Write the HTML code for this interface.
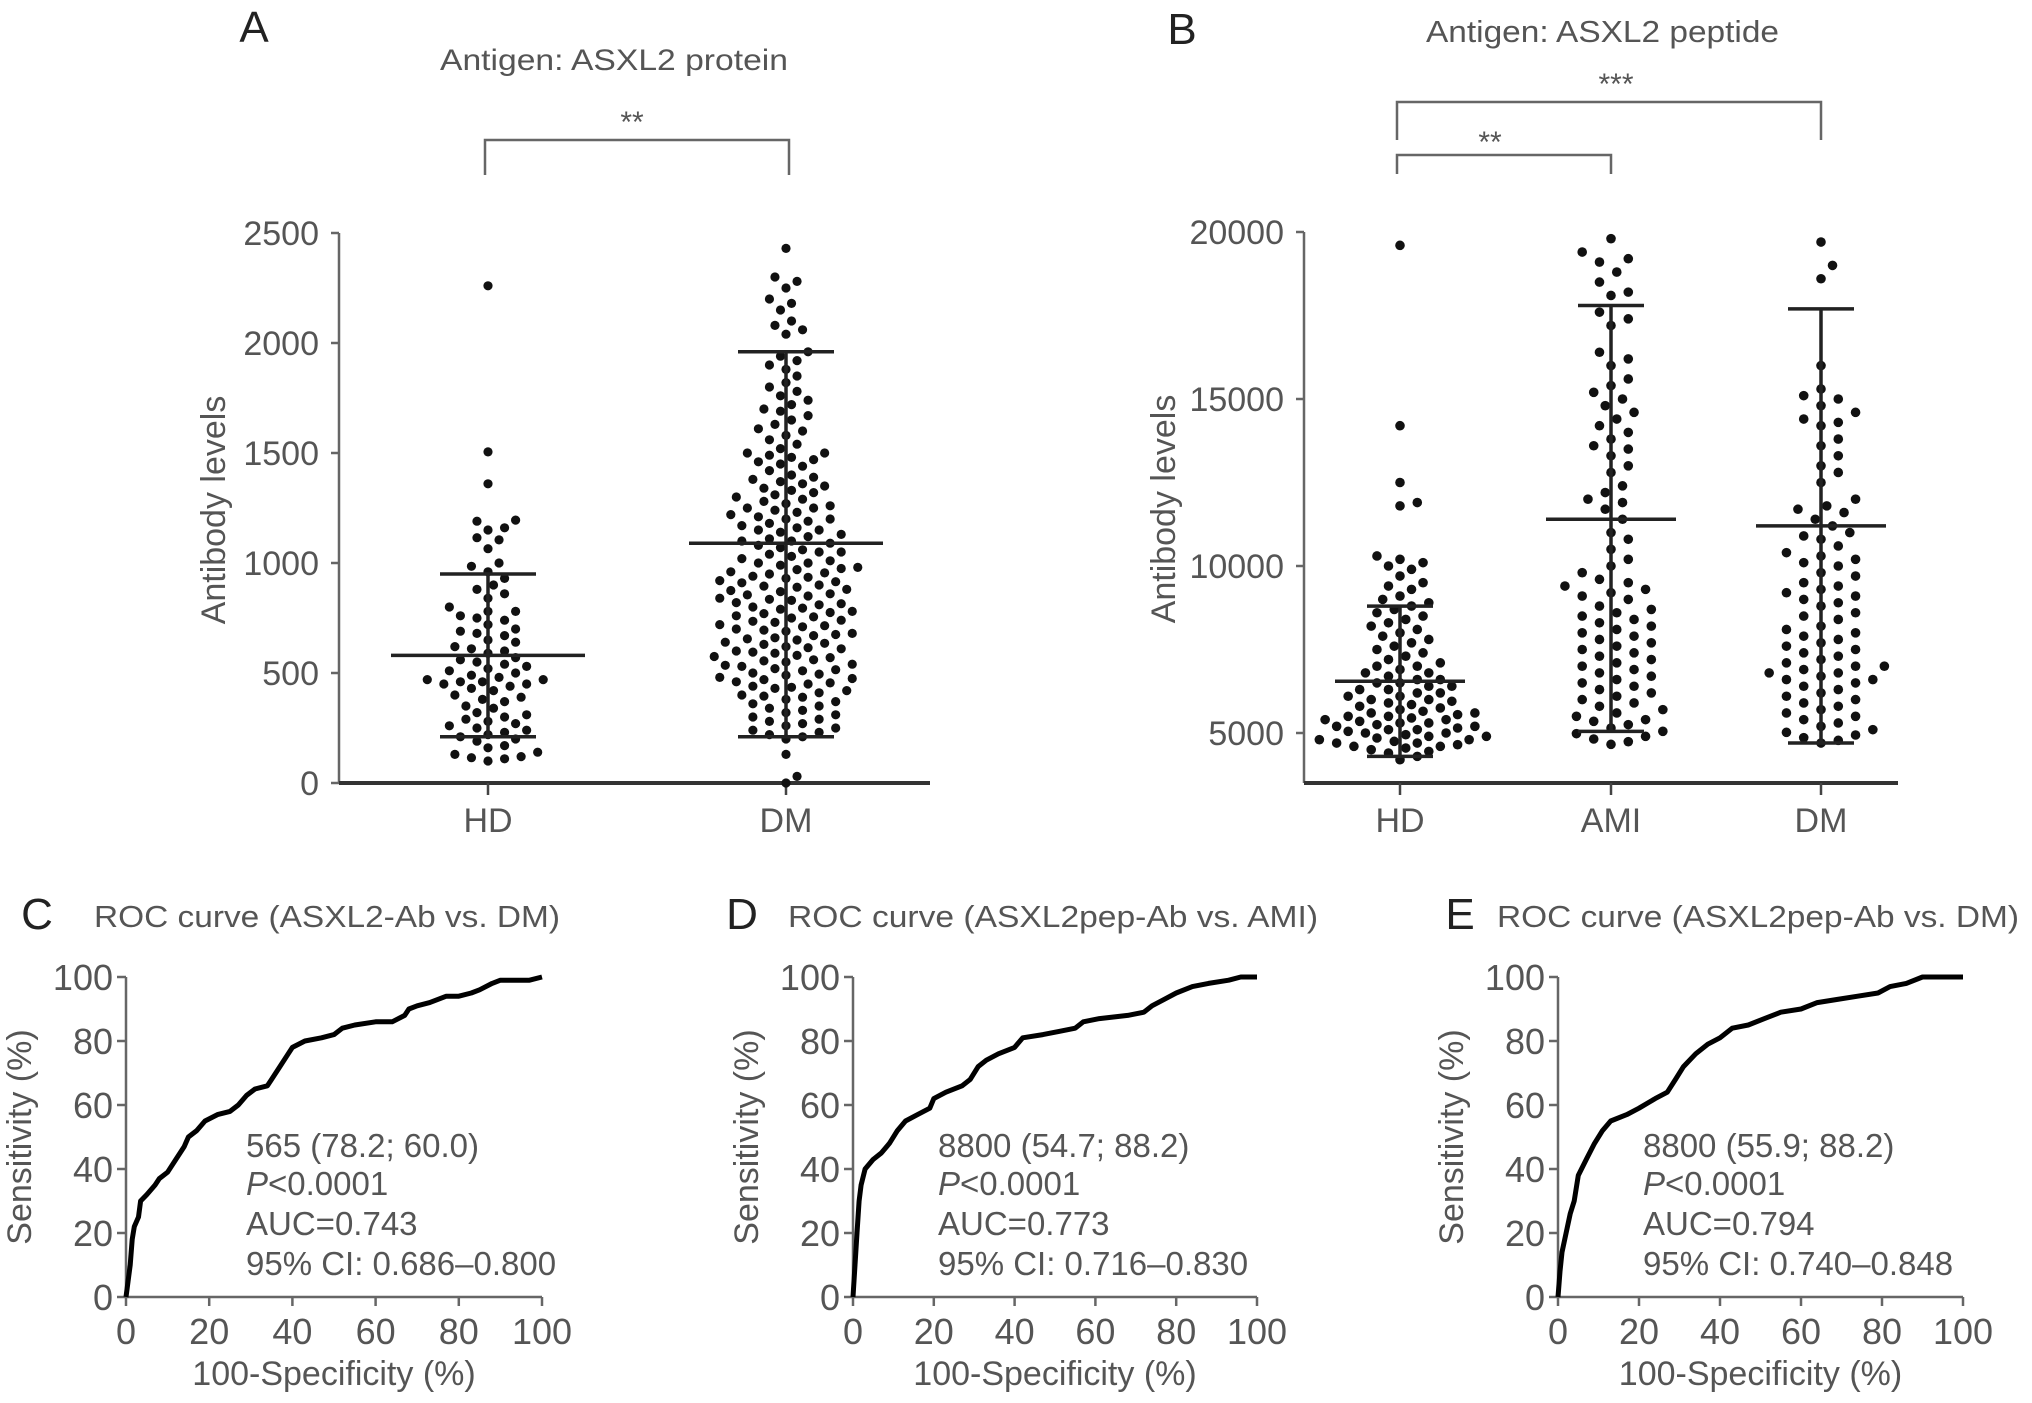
<!DOCTYPE html>
<html><head><meta charset="utf-8">
<style>
html,body{margin:0;padding:0;background:#fff;}
svg{display:block;font-family:"Liberation Sans",Arial,sans-serif;}
text{fill:#555;}
</style></head>
<body>
<svg id="fig" width="2032" height="1403" viewBox="0 0 2032 1403" xmlns="http://www.w3.org/2000/svg">
  <text x="254" y="42" font-size="44" text-anchor="middle" style="fill:#222">A</text>
  <text x="440" y="70" font-size="30" textLength="348" lengthAdjust="spacingAndGlyphs">Antigen: ASXL2 protein</text>
  <text transform="translate(225,510) rotate(-90)" font-size="34" text-anchor="middle">Antibody levels</text>
  <text x="1182" y="44" font-size="44" text-anchor="middle" style="fill:#222">B</text>
  <text x="1426" y="42" font-size="31" textLength="353" lengthAdjust="spacingAndGlyphs">Antigen: ASXL2 peptide</text>
  <text transform="translate(1175,509) rotate(-90)" font-size="34" text-anchor="middle">Antibody levels</text>
  <text x="37" y="929" font-size="44" text-anchor="middle" style="fill:#222">C</text>
  <text x="94" y="927" font-size="31" textLength="466" lengthAdjust="spacingAndGlyphs">ROC curve (ASXL2-Ab vs. DM)</text>
  <text x="742" y="929" font-size="44" text-anchor="middle" style="fill:#222">D</text>
  <text x="788" y="927" font-size="31" textLength="530" lengthAdjust="spacingAndGlyphs">ROC curve (ASXL2pep-Ab vs. AMI)</text>
  <text x="1460" y="929" font-size="44" text-anchor="middle" style="fill:#222">E</text>
  <text x="1497" y="927" font-size="31" textLength="522" lengthAdjust="spacingAndGlyphs">ROC curve (ASXL2pep-Ab vs. DM)</text>
</svg>
<script>
// ---------- Panel A data ----------
const catsA = ["HD","DM"];
const hdA = [2260,1505,1360,1195,1190,1160,1150,1115,1105,1065,1000,985,960,930,900,880,860,840,800,780,780,760,750,740,720,700,690,680,670,650,640,620,610,600,590,570,560,550,540,530,520,510,500,490,480,470,470,460,460,450,450,440,430,420,400,390,380,370,350,340,320,310,300,290,280,270,260,250,240,230,220,210,200,190,170,160,140,130,120,115,110,100];
const dmA = [2430,2300,2280,2250,2200,2180,2150,2100,2080,2060,2040,1960,1940,1920,1900,1880,1850,1820,1800,1780,1760,1740,1720,1700,1690,1670,1650,1630,1610,1600,1580,1560,1540,1520,1500,1500,1490,1480,1470,1460,1450,1440,1420,1400,1390,1380,1370,1360,1350,1340,1330,1320,1310,1300,1290,1280,1270,1260,1250,1250,1240,1230,1220,1210,1200,1200,1190,1180,1170,1160,1150,1150,1140,1130,1120,1110,1100,1100,1090,1080,1070,1060,1050,1050,1040,1030,1020,1010,1000,1000,990,980,975,970,960,955,950,940,935,930,920,915,910,900,895,890,880,875,870,860,855,850,840,835,830,820,815,810,800,795,790,780,775,770,760,755,750,740,735,730,720,715,710,700,695,690,680,675,670,660,655,650,640,635,630,620,615,610,600,595,590,580,575,570,560,555,550,540,535,530,520,515,510,500,495,490,480,475,470,460,455,450,440,435,430,420,410,400,395,390,380,370,360,350,340,330,320,310,300,290,280,270,260,250,240,230,220,210,200,130,30,0];
const statsA = {HD:[580,210,950], DM:[1090,210,1960]};
const ticksA = [0,500,1000,1500,2000,2500];
// ---------- Panel B data ----------
const catsB = ["HD","AMI","DM"];
const hdB = [19600,14200,12500,11900,11800,10300,10200,10100,10000,9900,9700,9500,9400,9300,9100,9000,8900,8800,8700,8600,8500,8400,8300,8200,8100,8000,7900,7800,7700,7600,7500,7400,7300,7200,7100,7000,7000,6900,6800,6800,6700,6600,6600,6500,6500,6400,6400,6300,6300,6200,6200,6100,6100,6000,6000,5950,5900,5850,5800,5750,5700,5650,5600,5600,5550,5500,5500,5450,5400,5400,5350,5300,5300,5250,5200,5200,5150,5100,5100,5050,5000,5000,4950,4900,4900,4850,4800,4800,4750,4700,4700,4650,4600,4600,4550,4500,4450,4400,4300,4200];
const amiB = [19800,19400,19200,19100,18800,18500,18200,18100,17600,17400,17200,16400,16200,16000,15600,15400,15200,15000,14800,14600,14400,14200,14000,13800,13600,13500,13300,13000,12800,12400,12200,12000,11900,11700,11400,11000,10800,10500,10200,10000,9800,9600,9500,9400,9300,9200,9100,9000,8800,8700,8600,8500,8400,8300,8200,8100,8000,7900,7800,7700,7600,7500,7400,7300,7200,7100,7000,6900,6800,6700,6600,6500,6400,6300,6200,6100,6000,5900,5800,5700,5600,5500,5400,5350,5250,5150,5050,4980,4900,4820,4740,4660];
const dmB = [19700,19000,18600,16000,15300,15100,15000,14800,14600,14400,14300,14200,13800,13600,13300,13000,12800,12500,12000,11800,11700,11600,11400,11200,11000,10900,10800,10600,10400,10300,10200,10100,10000,9800,9700,9500,9400,9300,9200,9100,9000,8900,8800,8600,8500,8400,8200,8100,8000,7900,7800,7700,7600,7500,7400,7300,7200,7100,7000,7000,6900,6800,6800,6700,6600,6600,6500,6400,6300,6200,6100,6000,5900,5800,5700,5600,5500,5400,5300,5200,5100,5020,4940,4860,4780,4700];
const statsB = {HD:[6550,4300,8800], AMI:[11400,5050,17800], DM:[11200,4700,17700]};
const ticksB = [5000,10000,15000,20000];
// ---------- ROC data ----------
const rocCx = [0,0.5,1,1.5,2,3,3.5,5,7,8,10,12,14,15,17,19,22,25,27,29,31,34,35,37,39,40,43,47,50,52,55,60,64,67,68,70,73,77,80,83,85,88,90,95,97,100];
const rocCy = [0,5,10,18,22,25,30,32,35,37,39,43,47,50,52,55,57,58,60,63,65,66,68,72,76,78,80,81,82,84,85,86,86,88,90,91,92,94,94,95,96,98,99,99,99,100];
const rocDx = [0,0.5,1,1.5,2,3,5,7,9,11,13,16,19,20,23,27,29,31,33,36,40,42,47,51,55,57,61,68,72,74,77,80,84,88,93,96,100];
const rocDy = [0,10,20,30,35,40,43,45,48,52,55,57,59,62,64,66,68,72,74,76,78,81,82,83,84,86,87,88,89,91,93,95,97,98,99,100,100];
const rocEx = [0,0.5,1,2,3,4,5,7,9,11,13,17,20,24,27,29,31,34,37,40,43,47,51,55,60,64,69,74,79,82,86,90,100];
const rocEy = [0,8,14,20,26,30,38,43,48,52,55,57,59,62,64,68,72,76,79,81,84,85,87,89,90,92,93,94,95,97,98,100,100];
const rocTicks = [0,20,40,60,80,100];
const rocNotes = {
  C:["565 (78.2; 60.0)","<0.0001","AUC=0.743","95% CI: 0.686\u20130.800"],
  D:["8800 (54.7; 88.2)","<0.0001","AUC=0.773","95% CI: 0.716\u20130.830"],
  E:["8800 (55.9; 88.2)","<0.0001","AUC=0.794","95% CI: 0.740\u20130.848"]
};

const NS="http://www.w3.org/2000/svg";
const svg=document.getElementById('fig');
function mk(tag,attrs,parent){const e=document.createElementNS(NS,tag);for(const k in attrs)e.setAttribute(k,attrs[k]);(parent||svg).appendChild(e);return e;}

function swarm(vals,cx,yf,r,f){
  const placed=[];const out=[];const d=2*r*f;
  const sorted=vals.slice().sort((a,b)=>a-b);
  for(const v of sorted){
    const y=yf(v);let x=cx;
    for(let k=0;k<80;k++){
      const off=(k===0)?0:(Math.ceil(k/2)*r*1.2*(k%2?1:-1));
      const tx=cx+off;let ok=true;
      for(const p of placed){if(Math.abs(p[1]-y)<d&&Math.hypot(p[0]-tx,p[1]-y)<d){ok=false;break;}}
      if(ok){x=tx;break;}
    }
    placed.push([x,y]);out.push([x,y,v]);
  }
  return out;
}

function dotPanel(cfg){
  const g=mk('g',{});
  
  
  const yf=v=>cfg.y0-(v-cfg.vmin)/(cfg.vmax-cfg.vmin)*(cfg.y0-cfg.y1);
  const ya=mk('line',{x1:cfg.ax,y1:yf(cfg.ticks[cfg.ticks.length-1]),x2:cfg.ax,y2:cfg.axisY,stroke:'#666','stroke-width':2.5},g);
  
  
  cfg.ticks.forEach(t=>{
    const y=yf(t);
    const tk=mk('line',{x1:cfg.ax-8,y1:y,x2:cfg.ax,y2:y,stroke:'#666','stroke-width':2.5},g);
    
    
    const tl=mk('text',{x:cfg.ax-20,y:y+12,'font-size':34,'text-anchor':'end'},g);
    tl.textContent=t;
    
    
  });
  const xa=mk('line',{x1:cfg.ax,y1:cfg.axisY,x2:cfg.axEnd,y2:cfg.axisY,stroke:'#333','stroke-width':4},g);
  
  
  cfg.cats.forEach((c,i)=>{
    const cx=cfg.cx[i];
    const tk=mk('line',{x1:cx,y1:cfg.axisY,x2:cx,y2:cfg.axisY+12,stroke:'#444','stroke-width':2.5},g);
    
    
    const tl=mk('text',{x:cx,y:cfg.axisY+49,'font-size':34,'text-anchor':'middle'},g);
    tl.textContent=c;
    
    
    const pts=swarm(cfg.data[i],cx,yf,cfg.r,cfg.f[i]);
    pts.forEach(p=>{
      const dot=mk('circle',{cx:p[0],cy:p[1],r:cfg.r,fill:'#111'},g);
      
      
    });
    const s=cfg.stats[c];
    const eb=mk('line',{x1:cx,y1:yf(s[1]),x2:cx,y2:yf(s[2]),stroke:'#222','stroke-width':3.5},g);
    
    
    [[s[1],cfg.sdw],[s[2],cfg.sdw],[s[0],cfg.mw]].forEach((q,j)=>{
      const l=mk('line',{x1:cx-q[1],y1:yf(q[0]),x2:cx+q[1],y2:yf(q[0]),stroke:'#222','stroke-width':3.5},g);
      
      
    });
  });
  return g;
}

dotPanel({name:'panel-a-scatter',cats:catsA,data:[hdA,dmA],stats:statsA,ticks:ticksA,vmin:0,vmax:2500,y0:783,y1:233,ax:339,axEnd:930,axisY:783,cx:[488,786],r:4.6,f:[1.35,1.35],mw:97,sdw:48});
dotPanel({name:'panel-b-scatter',cats:catsB,data:[hdB,amiB,dmB],stats:statsB,ticks:ticksB,vmin:5000,vmax:20000,y0:733,y1:232,ax:1304,axEnd:1898,axisY:783,cx:[1400,1611,1821],r:4.8,f:[1.3,1.6,1.6],mw:65,sdw:33});

function bracket(name,x1,x2,yTop,yBot1,yBot2,label,lx,ly){
  const p=mk('path',{d:`M${x1},${yBot1} V${yTop} H${x2} V${yBot2}`,fill:'none',stroke:'#666','stroke-width':2.5});
  
  
  const t=mk('text',{x:lx,y:ly,'font-size':30,'text-anchor':'middle'});
  t.textContent=label;
  
  
}
bracket('significance-bracket-a',485,789,140,175,175,'**',632,132);
bracket('significance-bracket-b-ami',1397,1611,155,174,174,'**',1490,152);
bracket('significance-bracket-b-dm',1397,1821,102,140,140,'***',1616,94);

function rocPanel(key,xs,ys,x0,x100,annX){
  const y0=1297,y100=977;
  const X=v=>x0+v/100*(x100-x0), Y=v=>y0-v/100*(y0-y100);
  const g=mk('g',{});
  
  
  const ya=mk('line',{x1:x0,y1:y100,x2:x0,y2:y0,stroke:'#666','stroke-width':2.5},g);
  
  
  const xa=mk('line',{x1:x0,y1:y0,x2:x100,y2:y0,stroke:'#666','stroke-width':2.5},g);
  
  
  rocTicks.forEach(t=>{
    const a=mk('line',{x1:x0-9,y1:Y(t),x2:x0,y2:Y(t),stroke:'#666','stroke-width':2.5},g);
    
    
    const b=mk('text',{x:x0-13,y:Y(t)+13,'font-size':36,'text-anchor':'end'},g);
    b.textContent=t;
    
    
    const c=mk('line',{x1:X(t),y1:y0,x2:X(t),y2:y0+9,stroke:'#666','stroke-width':2.5},g);
    
    
    const d=mk('text',{x:X(t),y:y0+47,'font-size':36,'text-anchor':'middle'},g);
    d.textContent=t;
    
    
  });
  const xl=mk('text',{x:(x0+x100)/2,y:1385,'font-size':34,'text-anchor':'middle'},g);
  xl.textContent='100-Specificity (%)';
  
  
  const yl=mk('text',{transform:`translate(${x0-95},1137) rotate(-90)`,'font-size':34,'text-anchor':'middle'},g);
  yl.textContent='Sensitivity (%)';
  
  
  let d='';xs.forEach((v,i)=>{d+=(i?'L':'M')+X(v).toFixed(1)+','+Y(ys[i]).toFixed(1);});
  const ln=mk('path',{d:d,fill:'none',stroke:'#000','stroke-width':5,'stroke-linejoin':'round'},g);
  
  
  const n=rocNotes[key];const lines=[1157,1195,1235,1275];
  n.forEach((s,i)=>{
    const t=mk('text',{x:annX,y:lines[i],'font-size':33},g);
    if(i===1){const it=mk('tspan',{'font-style':'italic'},t);it.textContent='P';const r=mk('tspan',{},t);r.textContent=s;}
    else t.textContent=s;
    
    
  });
}
rocPanel('C',rocCx,rocCy,126,542,246);
rocPanel('D',rocDx,rocDy,853,1257,938);
rocPanel('E',rocEx,rocEy,1558,1963,1643);
</script>
</body></html>
